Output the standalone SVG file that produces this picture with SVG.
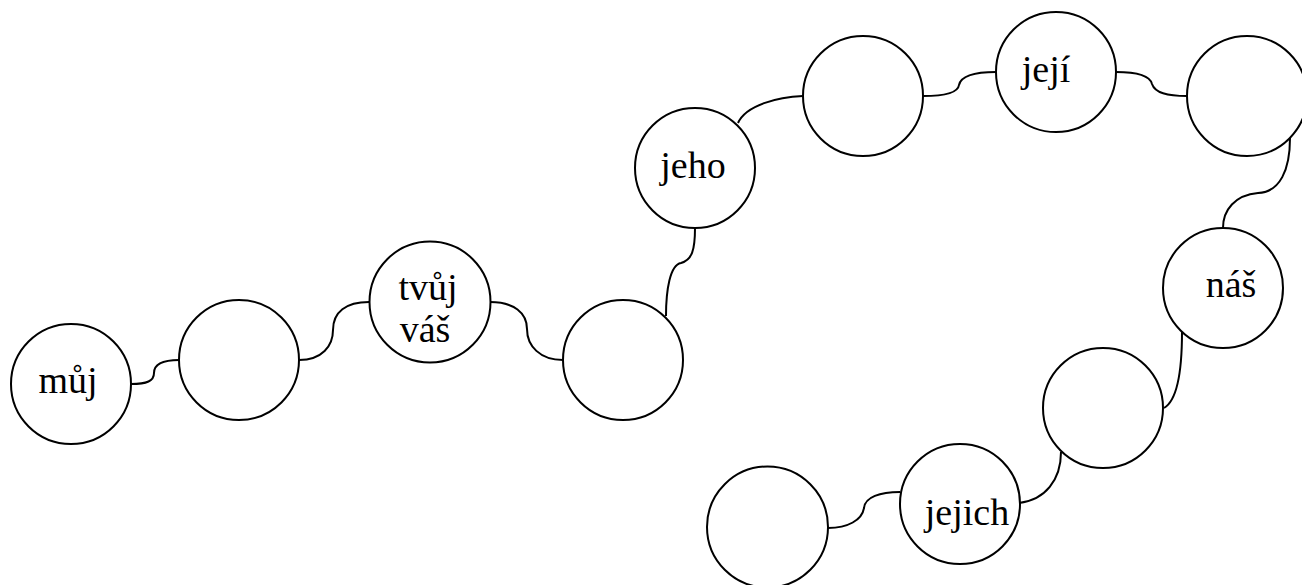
<svg xmlns="http://www.w3.org/2000/svg" width="1302" height="585" viewBox="0 0 1302 585">
<style>
.n{fill:#fff;stroke:#000;stroke-width:2}
.c{fill:none;stroke:#000;stroke-width:2}
.t{font-family:"Liberation Serif","Times New Roman",serif;font-size:38px;fill:#000;text-anchor:middle}
</style>
<rect width="1302" height="585" fill="#fff"/>
<g id="connectors">
<path class="c" d="M131,384 C147,384 154,381 154,373 C154,364 163,360 179,360"/>
<path class="c" d="M299,360 C322,360 333,346 333,330 C333,312 346,302 369,302"/>
<path class="c" d="M490,302 C514,302 527,313 527,329 C527,346 540,360 563,360"/>
<path class="c" d="M666,316 C666,290 670,265 681,263 C692,260 695,250 695,228"/>
<path class="c" d="M738,123 C746,105 778,97 803,96"/>
<path class="c" d="M923,96 C945,96 958,93 959,85 C961,76 975,72 996,72"/>
<path class="c" d="M1116,72 C1138,72 1150,76 1152,84 C1155,93 1167,96 1187,96"/>
<path class="c" d="M1290,138 C1290,170 1280,192 1258,193 C1235,195 1223,210 1223,228"/>
<path class="c" d="M1182,332 C1182,370 1178,400 1164,408"/>
<path class="c" d="M1061,452 C1061,480 1045,500 1019,503"/>
<path class="c" d="M900,492 C880,492 865,497 864,508 C862,520 848,528 828,528"/>
</g>
<g id="n1"><circle class="n" cx="71" cy="384" r="60"/><text class="t" x="68" y="393">můj</text></g>
<g id="n2"><circle class="n" cx="239" cy="360" r="60"/></g>
<g id="n3"><circle class="n" cx="430" cy="302" r="60.5"/><text class="t" x="428" y="300">tvůj</text><text class="t" x="425" y="342">váš</text></g>
<g id="n4"><circle class="n" cx="623" cy="360" r="60"/></g>
<g id="n5"><circle class="n" cx="695" cy="168" r="60"/><text class="t" x="693" y="178">jeho</text></g>
<g id="n6"><circle class="n" cx="863" cy="96" r="60"/></g>
<g id="n7"><circle class="n" cx="1056" cy="72" r="60"/><text class="t" x="1046" y="82">její</text></g>
<g id="n8"><circle class="n" cx="1247" cy="96" r="60"/></g>
<g id="n9"><circle class="n" cx="1223" cy="288" r="60"/><text class="t" x="1231" y="297">náš</text></g>
<g id="n10"><circle class="n" cx="1103" cy="408" r="60"/></g>
<g id="n11"><circle class="n" cx="960" cy="504" r="60"/><text class="t" x="967" y="525">jejich</text></g>
<g id="n12"><circle class="n" cx="767.5" cy="527" r="60.5"/></g>
</svg>
